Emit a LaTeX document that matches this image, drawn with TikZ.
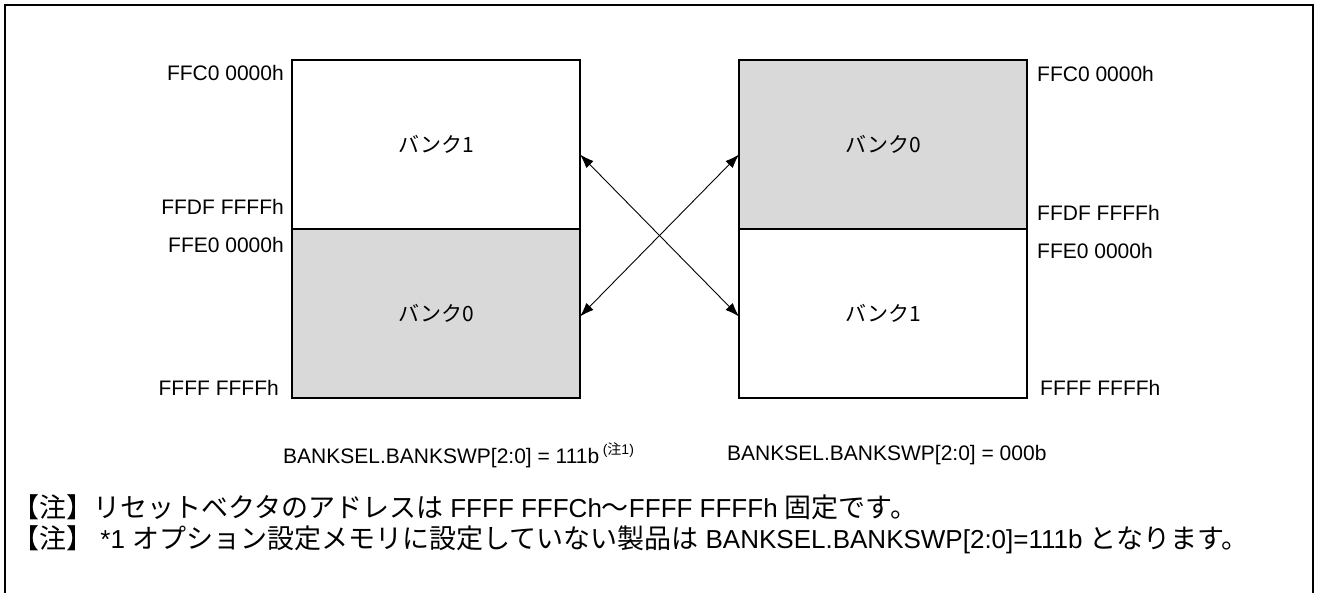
\documentclass[tikz,border=0pt]{standalone}
\usepackage{fontspec}
\setmainfont{Liberation Sans}
\newfontfamily\jp{Noto Sans CJK JP}
\usetikzlibrary{arrows.meta}
\definecolor{bankgray}{HTML}{D9D9D9}
\tikzset{
  frame/.style={line width=2pt},
  membox/.style={draw, line width=2pt, minimum width=288pt, minimum height=169pt, inner sep=0pt, outer sep=0pt, font=\fontsize{21}{25}\selectfont\jp},
  addr/.style={inner sep=0pt, font=\fontsize{21}{25}\selectfont},
  captext/.style={inner sep=0pt, anchor=west, font=\fontsize{21}{25}\selectfont},
  notetext/.style={inner sep=0pt, anchor=west, font=\fontsize{26}{29}\selectfont},
  swaparrow/.style={line width=0.9pt, {Latex[length=14pt,width=10pt]}-{Latex[length=14pt,width=10pt]}}
}
\newcommand{\jn}[1]{{\fontsize{27}{29}\selectfont\jp #1}}
\begin{document}
\begin{tikzpicture}[x=1pt,y=-1pt]
\useasboundingbox (0,0) rectangle (1319,593);
\draw[frame] (5,594) -- (5,5) -- (1313,5) -- (1313,594);
% left memory map
\node[membox, fill=white, anchor=north west] (L1) at (292,60) {バンク1};
\node[membox, fill=bankgray, anchor=north west] (L0) at (292,229) {バンク0};
% right memory map
\node[membox, fill=bankgray, anchor=north west] (R0) at (739,60) {バンク0};
\node[membox, fill=white, anchor=north west] (R1) at (739,229) {バンク1};
% address labels
\node[addr, anchor=east] (la) at (284,73) {FFC0 0000h};
\node[addr, anchor=east] (lb) at (284,207) {FFDF FFFFh};
\node[addr, anchor=east] (lc) at (284,245) {FFE0 0000h};
\node[addr, anchor=east] (ld) at (279,388) {FFFF FFFFh};
\node[addr, anchor=west] (ra) at (1037,74) {FFC0 0000h};
\node[addr, anchor=west] (rb) at (1037,213) {FFDF FFFFh};
\node[addr, anchor=west] (rc) at (1037,251) {FFE0 0000h};
\node[addr, anchor=west] (rd) at (1040,388) {FFFF FFFFh};
% swap arrows
\draw[swaparrow] ([yshift=-10pt]L1.east) -- ([yshift=-3pt]R1.west);
\draw[swaparrow] ([yshift=-3pt]L0.east) -- ([yshift=-10pt]R0.west);
% captions
\node[captext] (cl) at (283,455) {BANKSEL.BANKSWP[2:0] = 111b\,\raisebox{9pt}{\fontsize{14}{14}\selectfont({\jp 注}1)}};
\node[captext] (cr) at (727,455) {BANKSEL.BANKSWP[2:0] = 000b};
% notes
\node[notetext] (n1) at (12,507) {\jn{【注】リセットベクタのアドレスは} FFFF FFFCh\jn{〜}FFFF FFFFh \jn{固定です。}};
\node[notetext] (n2) at (12,540) {\jn{【注】} *1 \jn{オプション設定メモリに設定していない製品は} BANKSEL.BANKSWP[2:0]=111b \jn{となります。}};
\end{tikzpicture}
\end{document}
